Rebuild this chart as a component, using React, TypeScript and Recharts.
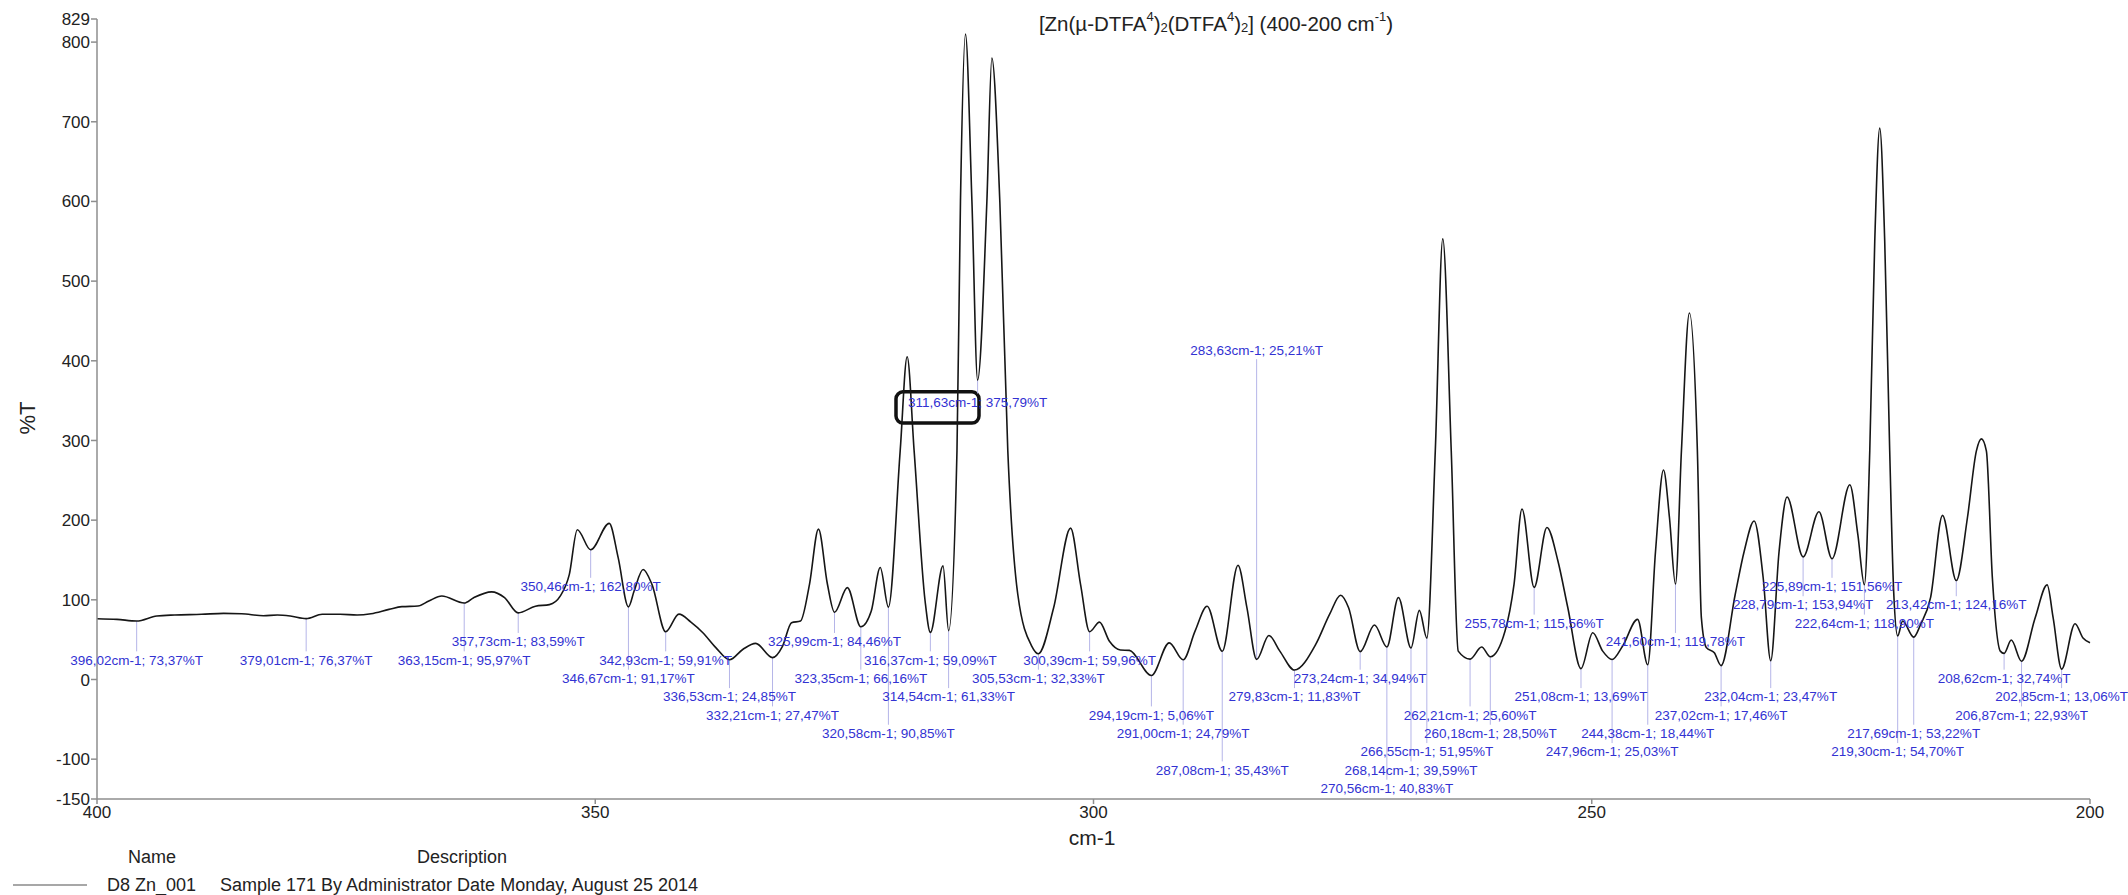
import React from 'react';
import {
  ComposedChart,
  Line,
  Scatter,
  XAxis,
  YAxis,
  ReferenceLine,
  ReferenceArea,
} from 'recharts';

// spectrum trace (cm-1, %T)
const wavenumbers = [
  400, 398, 396.02, 394, 392.2, 389.5, 387.3, 385.5, 383.3, 381.9, 380.6, 379.01,
  377.4, 375.6, 373.9, 372.5, 370.7, 369.4, 367.8, 366.7, 365.4, 363.15, 362.2, 360.4,
  359.1, 357.73, 356, 354.6, 353.5, 352.6, 351.8, 350.46, 348.6, 347.7, 346.67, 346.1,
  345.2, 344.3, 342.93, 341.6, 340.4, 339.2, 337.9, 336.53, 335.2, 333.9, 332.21, 331.2,
  330.3, 329.4, 328.5, 327.6, 326.7, 325.99, 324.7, 323.35, 322.3, 321.4, 320.58, 319.4,
  318.7, 318.0, 316.9, 316.37, 315.1, 314.54, 313.7, 313.35, 312.85, 312.2, 311.63, 310.7,
  310.2, 309.4, 308.6, 307.6, 306.2, 305.53, 304.0, 302.3, 301.3, 300.39, 299.4, 298.4,
  297.3, 296.4, 294.19, 292.4, 291.0, 289.8, 288.6, 287.08, 285.5, 284.6, 283.63, 282.4,
  281.3, 279.83, 277.7, 276.3, 275.2, 274.4, 273.24, 271.8, 270.56, 269.4, 268.14, 267.3,
  266.55, 265.7, 264.95, 264.1, 263.4, 262.21, 261.05, 260.18, 258.7, 257.8, 257.0, 255.78,
  254.5, 253.4, 252.4, 251.08, 249.9, 248.9, 247.96, 246.9, 245.4, 244.38, 243.6, 242.8,
  242.2, 241.6, 241.0, 240.2, 239.4, 239.0, 238.5, 237.7, 237.02, 235.6, 234.7, 233.7,
  232.8, 232.04, 231.2, 230.4, 228.79, 227.2, 225.89, 224.1, 223.3, 222.64, 222.1, 221.6,
  221.1, 220.6, 220.1, 219.7, 219.3, 218.8, 217.69, 217.0, 216.0, 214.8, 213.42, 212.3,
  211.4, 210.9, 210.4, 209.8, 209.0, 208.62, 207.9, 206.87, 205.5, 204.3, 203.7, 202.85,
  201.5, 200.7, 200,
];
const transmittance = [
  76.3, 75.5, 73.37, 79.7, 81, 81.8, 83, 82.6, 80, 81, 79.7, 76.37,
  81.8, 81.8, 81, 82.6, 88, 91.4, 92.2, 98.5, 104.8, 95.97, 102.7, 110,
  102.7, 83.59, 92, 94, 105, 132, 188, 162.8, 196, 153, 91.17, 111,
  138, 119, 59.91, 82, 72, 58.7, 40, 24.85, 37.7, 45.3, 27.47, 42,
  71.3, 73.4, 119.5, 188.7, 119.5, 84.46, 115.3, 66.16, 86, 140.5, 90.85, 287,
  405, 287, 98.5, 59.09, 142.6, 61.33, 287, 600, 810, 600, 375.79, 600,
  780, 600, 287, 107, 42, 32.33, 90, 190, 119.5, 59.96, 72, 48,
  37, 36.5, 5.06, 46, 24.79, 61, 92, 35.43, 143.4, 90, 25.21, 55.3,
  35.6, 11.83, 44, 82, 105.7, 90, 34.94, 68.3, 40.83, 103, 39.59, 86.8,
  51.95, 287, 553, 287, 35.6, 25.6, 40.7, 28.5, 60.8, 119.5, 214, 115.56,
  190.8, 149, 90, 13.69, 58.7, 35.6, 25.03, 42, 75.5, 18.44, 161, 263,
  203, 119.78, 287, 460, 287, 77.6, 40, 33.5, 17.46, 107, 161, 199,
  128, 23.47, 161, 229, 153.94, 210.5, 151.56, 244.4, 182, 118.9, 287, 550,
  692, 550, 287, 110, 54.7, 73.4, 53.22, 69, 102.7, 206, 124.16, 203,
  287, 302, 287, 128, 35.6, 32.74, 49.5, 22.93, 77.6, 118.7, 77.6, 13.06,
  70, 52, 46,
];

// picked bands: position, value, and the level (in %T) where the label sits
const pickWn = [
  396.02, 379.01, 363.15, 357.73, 350.46, 346.67, 342.93, 336.53, 332.21, 325.99, 323.35,
  320.58, 316.37, 314.54, 311.63, 305.53, 300.39, 294.19, 291.0, 287.08, 283.63, 279.83,
  273.24, 270.56, 268.14, 266.55, 262.21, 260.18, 255.78, 251.08, 247.96, 244.38, 241.6,
  237.02, 232.04, 228.79, 225.89, 222.64, 219.3, 217.69, 213.42, 208.62, 206.87, 202.85,
];
const pickT = [
  73.37, 76.37, 95.97, 83.59, 162.8, 91.17, 59.91, 24.85, 27.47, 84.46, 66.16,
  90.85, 59.09, 61.33, 375.79, 32.33, 59.96, 5.06, 24.79, 35.43, 25.21, 11.83,
  34.94, 40.83, 39.59, 51.95, 25.6, 28.5, 115.56, 13.69, 25.03, 18.44, 119.78,
  17.46, 23.47, 153.94, 151.56, 118.9, 54.7, 53.22, 124.16, 32.74, 22.93, 13.06,
];
const pickLabelLevel = [
  24.3, 24.3, 24.3, 47.4, 116.6, 1.3, 24.3, -21.8, -44.8, 47.4, 1.3,
  -67.8, 24.3, -21.8, 348, 1.3, 24.3, -44.8, -67.8, -113.8, 413, -21.8,
  1.3, -136.8, -113.8, -90.8, -44.8, -67.8, 70.4, -21.8, -90.8, -67.8, 47.4,
  -44.8, -21.8, 93.5, 116.6, 70.4, -90.8, -67.8, 93.5, 1.3, -44.8, -21.8,
];

// highlight box drawn round the 311,63 label
const boxWn = [319.82, 311.49];
const boxT = [322, 361];

const xTicks = [400, 350, 300, 250, 200];
const yTicks = [-150, -100, 0, 100, 200, 300, 400, 500, 600, 700, 800, 829];

const W = 2128;
const H = 895;
const FONT = '"Liberation Sans", Arial, Helvetica, sans-serif';
const PICK_BLUE = '#3232d2';
const LEADER = '#b5b5e8';
const AXIS_GREY = '#8e8e8e';

const fmt = (v: number) => v.toFixed(2).replace('.', ',');

const spectrum = wavenumbers.map((x, i) => ({ x, y: transmittance[i] }));
const picks = pickWn.map((x, i) => ({
  x,
  y: pickLabelLevel[i],
  t: pickT[i],
  text: `${fmt(x)}cm-1; ${fmt(pickT[i])}%T`,
}));

const PickLabel = (props: any) => {
  const { cx, cy, payload } = props;
  if (cx == null || cy == null) return null;
  return (
    <text
      x={cx}
      y={cy}
      textAnchor="middle"
      dominantBaseline="central"
      fontFamily={FONT}
      fontSize={13.5}
      fill={PICK_BLUE}
    >
      {payload.text}
    </text>
  );
};

const HighlightBox = (props: any) => {
  const { x, y, width, height } = props;
  const rx = Math.min(x, x + width);
  const ry = Math.min(y, y + height);
  return (
    <rect
      x={rx}
      y={ry}
      width={Math.abs(width)}
      height={Math.abs(height)}
      rx={7}
      ry={7}
      fill="none"
      stroke="#111"
      strokeWidth={3.5}
    />
  );
};

export default function App() {
  const tickStyle = { fontFamily: FONT, fontSize: 17, fill: '#222' };
  return (
    <div style={{ position: 'absolute', left: 0, top: 0, width: W, height: H, background: '#fff' }}>
      <ComposedChart width={W} height={H} margin={{ top: 19, right: 38, bottom: 66, left: 0 }}>
        <XAxis
          type="number"
          dataKey="x"
          domain={[200, 400]}
          reversed
          ticks={xTicks}
          height={30}
          tickSize={5}
          tickMargin={2}
          stroke={AXIS_GREY}
          strokeWidth={1.5}
          tick={tickStyle}
        />
        <YAxis
          type="number"
          domain={[-150, 829]}
          ticks={yTicks}
          width={97}
          tickSize={6}
          tickMargin={1}
          stroke={AXIS_GREY}
          strokeWidth={1.5}
          tick={tickStyle}
          interval={0}
        />
        {picks.map((p) => {
          const below = p.y < p.t;
          const y1 = below ? p.t : p.y - 11;
          const y2 = below ? p.y + 11 : p.t;
          return (
            <ReferenceLine
              key={`lead-${p.x}`}
              segment={[
                { x: p.x, y: y1 },
                { x: p.x, y: y2 },
              ]}
              stroke={LEADER}
              strokeWidth={1}
              ifOverflow="visible"
            />
          );
        })}
        <Line
          data={spectrum}
          dataKey="y"
          type="monotone"
          stroke="#161616"
          strokeWidth={1.6}
          dot={false}
          activeDot={false}
          isAnimationActive={false}
        />
        <Scatter
          data={picks}
          dataKey="y"
          shape={PickLabel}
          isAnimationActive={false}
        />
        <ReferenceArea
          x1={boxWn[0]}
          x2={boxWn[1]}
          y1={boxT[0]}
          y2={boxT[1]}
          ifOverflow="visible"
          shape={HighlightBox}
        />
      </ComposedChart>
      <svg
        width={W}
        height={H}
        style={{ position: 'absolute', left: 0, top: 0, pointerEvents: 'none' }}
        fontFamily={FONT}
      >
        <text x={1216} y={23} textAnchor="middle" dominantBaseline="central" fontSize={20.5} fill="#222">
          [Zn(µ-DTFA<tspan fontSize={13} dy={-7}>4</tspan>
          <tspan dy={7}>)</tspan>
          <tspan fontSize={13} dy={4}>2</tspan>
          <tspan dy={-4}>(DTFA</tspan>
          <tspan fontSize={13} dy={-7}>4</tspan>
          <tspan dy={7}>)</tspan>
          <tspan fontSize={13} dy={4}>2</tspan>
          <tspan dy={-4}>] (400-200 cm</tspan>
          <tspan fontSize={13} dy={-7}>-1</tspan>
          <tspan dy={7}>)</tspan>
        </text>
        <text
          x={27}
          y={418}
          textAnchor="middle"
          dominantBaseline="central"
          fontSize={22}
          fill="#222"
          transform="rotate(-90 27 418)"
        >
          %T
        </text>
        <text x={1092} y={837} textAnchor="middle" dominantBaseline="central" fontSize={21} fill="#222">
          cm-1
        </text>
        <text x={152} y={857} textAnchor="middle" dominantBaseline="central" fontSize={18} fill="#222">
          Name
        </text>
        <text x={462} y={857} textAnchor="middle" dominantBaseline="central" fontSize={18} fill="#222">
          Description
        </text>
        <line x1={13} y1={885} x2={87} y2={885} stroke="#8a8a8a" strokeWidth={1.5} />
        <text x={107} y={885} dominantBaseline="central" fontSize={18} fill="#222">
          D8 Zn_001
        </text>
        <text x={220} y={885} dominantBaseline="central" fontSize={18} fill="#222">
          Sample 171 By Administrator Date Monday, August 25 2014
        </text>
      </svg>
    </div>
  );
}
